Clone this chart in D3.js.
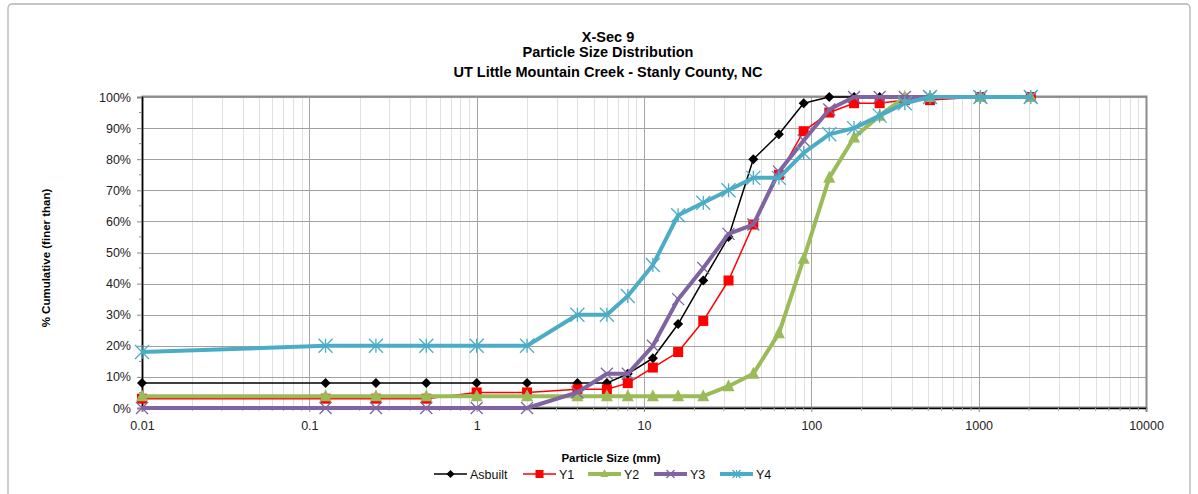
<!DOCTYPE html>
<html><head><meta charset="utf-8">
<script src="https://cdn.jsdelivr.net/npm/d3@7"></script>
<style>body{margin:0;background:#fff;}svg{display:block;font-family:"Liberation Sans",Arial,sans-serif;}</style>
</head><body>
<svg id="c" width="1198" height="494"></svg>
<script>
const sizes = [0.01,0.125,0.25,0.5,1,2,4,6,8,11.3,16,22.6,32,45,64,90,128,180,256,362,512,1024,2048];
const asbuilt = [8,8,8,8,8,8,8,8,11,16,27,41,55,80,88,98,100,100,100,100,100,100,100];
const y1 = [3,3,3,3,5,5,6,6,8,13,18,28,41,59,75,89,95,98,98,99,99,100,100];
const y2 = [3.8,3.8,3.8,3.8,3.8,3.8,3.8,3.8,3.8,3.8,3.8,3.8,7,11,24,48,74,87,94,100,100,100,100];
const y3 = [0,0,0,0,0,0,5,11,11,20,35,45,56,59,76,86,96,100,100,100,100,100,100];
const y4 = [18,20,20,20,20,20,30,30,36,46,62,66,70,74,74,82,88,90,94,98,100,100,100];
const seriesNames = ["Asbuilt","Y1","Y2","Y3","Y4"];
const xTicks = [0.01,0.1,1,10,100,1000,10000];
const yTicks = [0,10,20,30,40,50,60,70,80,90,100];

const svg = d3.select("#c");
const L=142,R=1146,T=97,B=408;
const x = d3.scaleLog().domain([0.01,10000]).range([L,R]);
const y = d3.scaleLinear().domain([0,100]).range([B,T]);

svg.append("rect").attr("x",8).attr("y",4).attr("width",1182).attr("height",500).attr("rx",4)
  .attr("fill","#fff").attr("stroke","#b3b3b3").attr("stroke-width",1.3);

// minor vertical grid
const minor=[];
for(let e=-2;e<4;e++){for(let k=2;k<10;k++){minor.push(k*Math.pow(10,e));}}
svg.append("g").selectAll("line").data(minor).join("line")
  .attr("x1",d=>Math.round(x(d))+0.5).attr("x2",d=>Math.round(x(d))+0.5).attr("y1",T).attr("y2",B)
  .attr("stroke","#e0e0e0").attr("stroke-width",1);
svg.append("g").selectAll("line").data(xTicks).join("line")
  .attr("x1",d=>Math.round(x(d))+0.5).attr("x2",d=>Math.round(x(d))+0.5).attr("y1",T).attr("y2",B)
  .attr("stroke","#a6a6a6").attr("stroke-width",1);
svg.append("g").selectAll("line").data(yTicks).join("line")
  .attr("x1",L).attr("x2",R).attr("y1",d=>Math.round(y(d))+0.5).attr("y2",d=>Math.round(y(d))+0.5)
  .attr("stroke","#a0a0a0").attr("stroke-width",1);
// plot border
svg.append("rect").attr("x",L+0.5).attr("y",T-0.5).attr("width",R-L).attr("height",B-T)
  .attr("fill","none").attr("stroke","#8c8c8c").attr("stroke-width",2);

// axes
const yAxis = d3.axisLeft(y).tickValues(yTicks).tickFormat(d=>d+"%").tickSize(5).tickPadding(6);
const gy = svg.append("g").attr("transform",`translate(${L},0)`).call(yAxis);
gy.select(".domain").attr("stroke","#000").attr("stroke-width",1.5);
gy.selectAll(".tick line").attr("stroke","#888");
gy.selectAll("text").attr("font-size",12.5).attr("fill","#222");
const yMinor = d3.range(5,100,10);
svg.append("g").selectAll("line").data(yMinor).join("line")
  .attr("x1",L-3).attr("x2",L).attr("y1",d=>y(d)).attr("y2",d=>y(d)).attr("stroke","#888");

const xAxis = d3.axisBottom(x).tickValues(xTicks).tickFormat(d3.format("~g")).tickSize(4).tickPadding(9);
const gx = svg.append("g").attr("transform",`translate(0,${B})`).call(xAxis);
gx.select(".domain").attr("stroke","#000").attr("stroke-width",1.5);
gx.selectAll(".tick line").attr("stroke","#888");
gx.selectAll("text").attr("font-size",12.5).attr("fill","#222");
svg.append("g").selectAll("line").data(minor).join("line")
  .attr("x1",d=>x(d)).attr("x2",d=>x(d)).attr("y1",B).attr("y2",B+3).attr("stroke","#aaa");

// titles
const titles=["X-Sec 9","Particle Size Distribution","UT Little Mountain Creek - Stanly County, NC"];
svg.append("g").selectAll("text").data(titles).join("text")
  .attr("x",608).attr("y",(d,i)=>[42,57,77][i]).attr("text-anchor","middle")
  .attr("font-size",14.5).attr("font-weight","bold").attr("fill","#000").text(d=>d);
svg.append("text").attr("transform","translate(50,258) rotate(-90)").attr("text-anchor","middle")
  .attr("font-size",11.5).attr("font-weight","bold").text("% Cumulative (finer than)");
svg.append("text").attr("x",611).attr("y",462).attr("text-anchor","middle")
  .attr("font-size",11.5).attr("font-weight","bold").text("Particle Size (mm)");

// series
const styles = [
  {name:"Asbuilt",vals:asbuilt,color:"#000000",w:1.5,marker:"diamond",ms:5},
  {name:"Y1",vals:y1,color:"#ff0000",w:1.5,marker:"square",ms:5},
  {name:"Y2",vals:y2,color:"#9bbb59",w:4,marker:"triangle",ms:6},
  {name:"Y3",vals:y3,color:"#8064a2",w:4,marker:"x",ms:6},
  {name:"Y4",vals:y4,color:"#4bacc6",w:4,marker:"star",ms:7}
];
function drawMarker(g,type,cx,cy,s,color){
  if(type==="diamond"){
    g.append("path").attr("d",`M${cx},${cy-s}L${cx+s},${cy}L${cx},${cy+s}L${cx-s},${cy}Z`).attr("fill",color);
  } else if(type==="square"){
    g.append("rect").attr("x",cx-s).attr("y",cy-s).attr("width",2*s).attr("height",2*s).attr("fill",color);
  } else if(type==="triangle"){
    g.append("path").attr("d",`M${cx},${cy-s-1}L${cx+s},${cy+s-1}L${cx-s},${cy+s-1}Z`).attr("fill",color);
  } else if(type==="x"){
    g.append("path").attr("d",`M${cx-s},${cy-s}L${cx+s},${cy+s}M${cx-s},${cy+s}L${cx+s},${cy-s}`)
      .attr("stroke",color).attr("stroke-width",1.3).attr("fill","none");
  } else if(type==="star"){
    g.append("path").attr("d",`M${cx-s},${cy-s}L${cx+s},${cy+s}M${cx-s},${cy+s}L${cx+s},${cy-s}M${cx},${cy-s}L${cx},${cy+s}`)
      .attr("stroke",color).attr("stroke-width",1.3).attr("fill","none");
  }
}
const line = d3.line().x(d=>x(d[0])).y(d=>y(d[1]));
styles.forEach(st=>{
  const pts = sizes.map((s,i)=>[s,st.vals[i]]);
  const g = svg.append("g");
  g.append("path").datum(pts).attr("d",line).attr("fill","none").attr("stroke",st.color)
    .attr("stroke-width",st.w).attr("stroke-linejoin","round");
  pts.forEach(p=>drawMarker(g,st.marker,x(p[0]),y(p[1]),st.ms,st.color));
});

// legend
const legX=[434,523,588,654,720];
const lg = svg.append("g");
styles.forEach((st,i)=>{
  const x0=legX[i], ly=474;
  lg.append("line").attr("x1",x0).attr("x2",x0+33).attr("y1",ly).attr("y2",ly)
    .attr("stroke",st.color).attr("stroke-width",st.w);
  drawMarker(lg,st.marker,x0+16.5,ly,Math.min(st.ms,4),st.color);
  lg.append("text").attr("x",x0+36).attr("y",ly+4.5).attr("font-size",12.5).attr("fill","#111").text(seriesNames[i]);
});
</script>
</body></html>
